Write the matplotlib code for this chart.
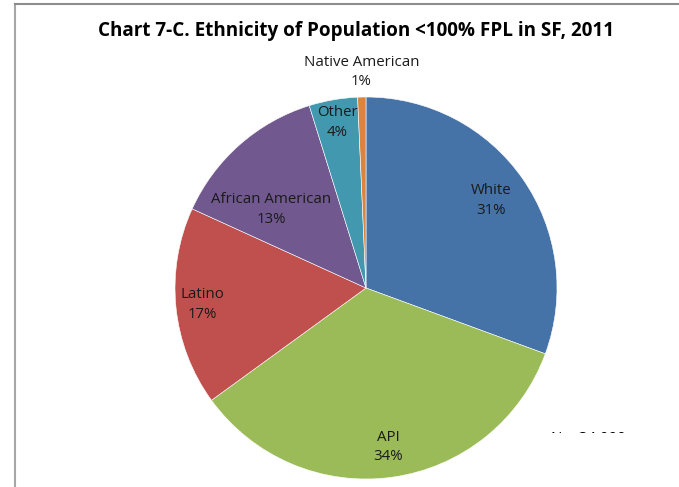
import numpy as np
import matplotlib
matplotlib.use("Agg")
from matplotlib import pyplot as plt
from matplotlib.lines import Line2D

# slice data (clockwise from 12 o'clock)
groups = ["White", "API", "Latino", "African American", "Other", "Native American"]
shares = [30.6, 34.4, 16.8, 13.4, 4.1, 0.7]
pct_labels = ["31%", "34%", "17%", "13%", "4%", "1%"]
colors = ["#4572A7", "#9BBB59", "#C0504D", "#71588F", "#4198AF", "#DB843D"]
# label placement: fraction of radius, and turn (deg) off the slice middle
label_r = [0.80, 0.84, 0.86, 0.645, 0.88, 1.13]
label_turn = [0, 0, 0, 9, 0, 0]

title = "Chart 7-C. Ethnicity of Population <100% FPL in SF, 2011"
note = "N = 34,000"

W, H = 679, 487
fig = plt.figure(figsize=(W / 100, H / 100), dpi=100)
fig.patch.set_facecolor("white")

# pie axes: centre (366, 288) px, radius 191 px
cx, cy, r = 366, 288, 191
ax = fig.add_axes([(cx - r) / W, (H - cy - r) / H, 2 * r / W, 2 * r / H])
wedges, _ = ax.pie(shares, colors=colors, startangle=90, counterclock=False,
                   wedgeprops=dict(edgecolor="white", linewidth=0.4))
ax.set_xlim(-1, 1)
ax.set_ylim(-1, 1)
ax.axis("off")

font = "Open Sans"
for w, name, pct, lr, turn in zip(wedges, groups, pct_labels, label_r, label_turn):
    mid = np.deg2rad((w.theta1 + w.theta2) / 2 + turn)
    x, y = lr * np.cos(mid), lr * np.sin(mid)
    ax.text(x, y, f"{name}\n{pct}", ha="center", va="center", fontsize=10.8,
            family=font, color="#1a1a1a", linespacing=1.4, clip_on=False)

fig.text(356 / W, 1 - 31 / H, title, ha="center", va="center",
         fontsize=13.6, fontweight="bold", family=font, color="black")

# chart frame (left and top edges only are visible)
fig.add_artist(Line2D([14.5 / W, 14.5 / W], [0, 1 - 3.5 / H], color="#A6A6A6", lw=1.5))
fig.add_artist(Line2D([14.5 / W, 1], [1 - 3.5 / H, 1 - 3.5 / H], color="#8C8C8C", lw=1.5))

# note in the lower right is cut off by the plot area
nax = fig.add_axes([540 / W, (H - 433) / H, 100 / W, 30 / H])
nax.axis("off")
nax.text(0.11, 0.08, note, ha="left", va="top", fontsize=10.8, family=font,
         transform=nax.transAxes, clip_on=True)

fig.savefig("out.png", dpi=100, facecolor="white")
